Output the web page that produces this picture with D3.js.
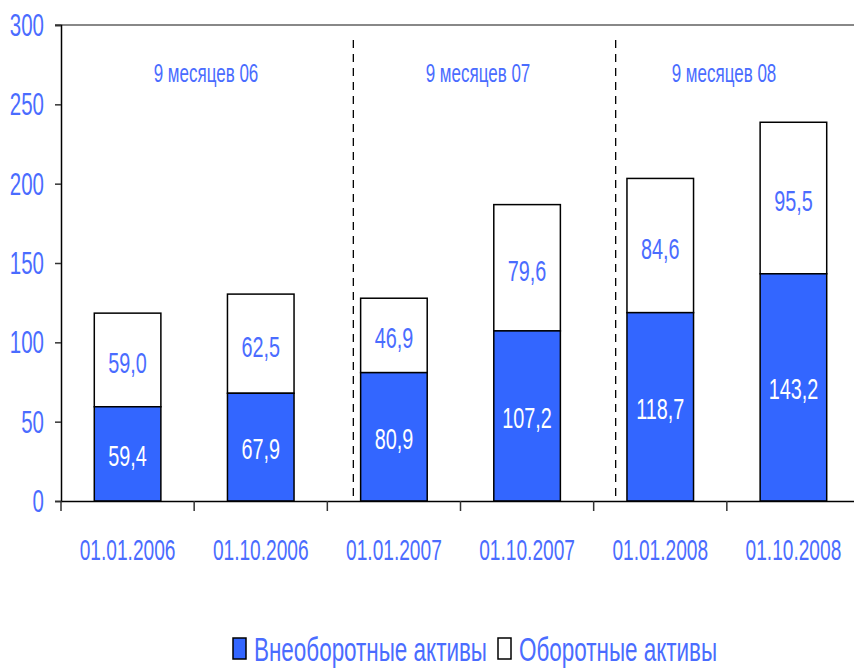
<!DOCTYPE html>
<html>
<head>
<meta charset="utf-8">
<script src="https://cdn.jsdelivr.net/npm/d3@7"></script>
<style>
  body { margin: 0; background: #fff; }
  text { font-family: 'Liberation Sans', Arial, sans-serif; }
</style>
</head>
<body>
<svg id="chart" width="854" height="668"></svg>
<script>
const dates = ['01.01.2006', '01.10.2006', '01.01.2007', '01.10.2007', '01.01.2008', '01.10.2008']
const fixedAssets = [59.4, 67.9, 80.9, 107.2, 118.7, 143.2]
const currentAssets = [59.0, 62.5, 46.9, 79.6, 84.6, 95.5]
const yTicks = [0, 50, 100, 150, 200, 250, 300]
const periods = ['9 месяцев 06', '9 месяцев 07', '9 месяцев 08']
const seriesNames = ['Внеоборотные активы', 'Оборотные активы']

const BLUE = '#3366ff'
const TEXT_BLUE = '#4a6cff'
const SX = 0.66 // the original is squeezed sideways
const fmt = v => v.toFixed(1).replace('.', ',')

// place a text narrowed horizontally
function narrow(sel, fx, fy, sx) {
  return sel.attr('x', 0).attr('y', 0)
    .attr('transform', (d, i) => `translate(${fx(d, i)},${fy(d, i)}) scale(${sx || SX},1)`)
}

const svg = d3.select('#chart')
const margin = { left: 61, top: 25, right: -6, bottom: 167 }
const width = 854 - margin.left - margin.right
const height = 668 - margin.top - margin.bottom

const x = d3.scaleBand().domain(dates).range([margin.left, margin.left + width])
const y = d3.scaleLinear().domain([0, 300]).range([margin.top + height, margin.top])
const barW = x.bandwidth() * 0.5

// top border line
svg.append('line')
  .attr('x1', margin.left - 6).attr('x2', 854)
  .attr('y1', y(300)).attr('y2', y(300))
  .attr('stroke', '#888').attr('stroke-width', 2)

// y axis
const yAxis = svg.append('g')
  .attr('transform', `translate(${margin.left},0)`)
  .call(d3.axisLeft(y).tickValues(yTicks).tickSize(6).tickFormat(''))
yAxis.select('.domain').attr('stroke', '#000').attr('stroke-width', 1.5)
yAxis.selectAll('.tick line').attr('stroke', '#333').attr('stroke-width', 1.5)
narrow(svg.append('g').selectAll('text').data(yTicks).join('text'),
  () => 44, d => y(d) + 11)
  .attr('text-anchor', 'end').attr('font-size', 31).attr('fill', TEXT_BLUE)
  .text(d => d)

// stacked bars
const stacked = dates.map((d, i) => ({ date: d, a: fixedAssets[i], b: currentAssets[i] }))
const bars = svg.append('g').selectAll('g').data(stacked).join('g')

bars.append('rect')
  .attr('x', d => x(d.date) + (x.bandwidth() - barW) / 2)
  .attr('width', barW)
  .attr('y', d => y(d.a + d.b))
  .attr('height', d => y(d.a) - y(d.a + d.b))
  .attr('fill', '#fff').attr('stroke', '#000').attr('stroke-width', 1.5)

bars.append('rect')
  .attr('x', d => x(d.date) + (x.bandwidth() - barW) / 2)
  .attr('width', barW)
  .attr('y', d => y(d.a))
  .attr('height', d => y(0) - y(d.a))
  .attr('fill', BLUE).attr('stroke', '#000').attr('stroke-width', 1.5)

narrow(bars.append('text'), d => x(d.date) + x.bandwidth() / 2, d => y(d.a / 2) + 12)
  .attr('text-anchor', 'middle').attr('font-size', 30).attr('fill', '#fff')
  .text(d => fmt(d.a))

narrow(bars.append('text'), d => x(d.date) + x.bandwidth() / 2, d => y(d.a + d.b / 2) + 13)
  .attr('text-anchor', 'middle').attr('font-size', 30).attr('fill', TEXT_BLUE)
  .text(d => fmt(d.b))

// x axis
const xAxis = svg.append('g')
  .attr('transform', `translate(0,${y(0)})`)
  .call(d3.axisBottom(x).tickSize(0).tickFormat(''))
xAxis.select('.domain').attr('stroke', '#000').attr('stroke-width', 1.5)
svg.append('g').selectAll('line')
  .data(dates.slice(1).map(d => x(d)).concat([margin.left]))
  .join('line')
  .attr('x1', d => d).attr('x2', d => d)
  .attr('y1', y(0)).attr('y2', y(0) + 10)
  .attr('stroke', '#333').attr('stroke-width', 1.5)
narrow(svg.append('g').selectAll('text').data(dates).join('text'),
  d => x(d) + x.bandwidth() / 2, () => 560)
  .attr('text-anchor', 'middle').attr('font-size', 29).attr('fill', TEXT_BLUE)
  .text(d => d)

// period separators and labels
const sepX = [x(dates[2]) + 26, x(dates[4]) + 22]
svg.append('g').selectAll('line').data(sepX).join('line')
  .attr('x1', d => d).attr('x2', d => d)
  .attr('y1', 40).attr('y2', y(0))
  .attr('stroke', '#000').attr('stroke-width', 1.3)
  .attr('stroke-dasharray', '8,6')

const periodX = [206, 478, 724]
narrow(svg.append('g').selectAll('text').data(periods).join('text'),
  (d, i) => periodX[i], () => 82, 0.68)
  .attr('text-anchor', 'middle').attr('font-size', 25).attr('fill', TEXT_BLUE)
  .text(d => d)

// legend
const legendX = [233, 498]
const legendFill = [BLUE, '#fff']
const legend = svg.append('g')
legend.selectAll('rect').data(seriesNames).join('rect')
  .attr('x', (d, i) => legendX[i]).attr('y', 638).attr('width', 13).attr('height', 21)
  .attr('fill', (d, i) => legendFill[i]).attr('stroke', '#000').attr('stroke-width', 1.5)
narrow(legend.selectAll('text').data(seriesNames).join('text'),
  (d, i) => legendX[i] + 21, () => 661)
  .attr('font-size', 34).attr('fill', TEXT_BLUE)
  .text(d => d)
</script>
</body>
</html>
